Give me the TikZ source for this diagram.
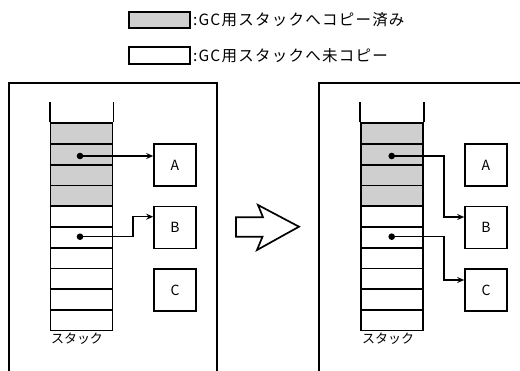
\documentclass[tikz,border=0pt]{standalone}
\usepackage{fontspec}
\setmainfont{Noto Sans CJK JP}
\usetikzlibrary{arrows.meta}
\usetikzlibrary{calc}

\tikzset{
  cell/.style={draw, line width=1.6pt, minimum width=62pt, minimum height=20.74pt, inner sep=0pt},
  copied/.style={fill=gray!38},
  obj/.style={draw, line width=1.6pt, minimum width=42pt, minimum height=42pt, inner sep=0pt, font=\fontsize{14}{16}\selectfont},
  legbox/.style={draw, line width=1.6pt, minimum width=61pt, minimum height=16.5pt, inner sep=0pt},
  legtext/.style={anchor=west, inner sep=0pt, font=\fontsize{15.5}{18}\selectfont\addfontfeatures{LetterSpace=8}},
  stacklabel/.style={font=\fontsize{13}{15}\selectfont},
  ptr/.style={line width=1.4pt, -{Stealth[length=7pt,width=6pt]}},
}

\begin{document}
\begin{tikzpicture}[x=1pt, y=-1pt]
			\useasboundingbox (0,0) rectangle (520,371);
			% legend
			\node[legbox, copied] (keyA) at (159.5,20) {};
			\node[legbox] (keyB) at (159.5,55.5) {};
			\node[legtext] (keyAtext) at ($(keyA.east)+(2,0)$) {:GC用スタックへコピー済み};
			\node[legtext] (keyBtext) at ($(keyB.east)+(2,0)$) {:GC用スタックへ未コピー};
			% panels
			\draw[line width=1.7pt] (9,371) -- (9,83) -- (217,83) -- (217,371);
			\draw[line width=1.7pt] (319,371) -- (319,83) -- (520,83);
			% stacks
			\foreach \i in {1,...,10} {
				\ifnum\i<5
					\node[cell, copied] (L\i) at (81.5,{123.3+20.74*(\i-0.5)}) {};
					\node[cell, copied] (R\i) at (392,{123.3+20.74*(\i-0.5)}) {};
				\else
					\node[cell] (L\i) at (81.5,{123.3+20.74*(\i-0.5)}) {};
					\node[cell] (R\i) at (392,{123.3+20.74*(\i-0.5)}) {};
				\fi
			}
			\draw[line width=1.6pt] (L1.north west) -- ++(0,-20);
			\draw[line width=1.6pt] (L1.north east) -- ++(0,-20);
			\draw[line width=1.6pt] (R1.north west) -- ++(0,-20);
			\draw[line width=1.6pt] (R1.north east) -- ++(0,-20);
			\node[stacklabel] (Llabel) at (77,339) {スタック};
			\node[stacklabel] (Rlabel) at (388,339) {スタック};
			% objects
			\node[obj] (LA) at (175,165) {A};
			\node[obj] (LB) at (175,227.5) {B};
			\node[obj] (LC) at (175,290) {C};
			\node[obj] (RA) at (486,165) {A};
			\node[obj] (RB) at (486,227.5) {B};
			\node[obj] (RC) at (486,290) {C};
			% pointers, before
			\coordinate (dL2) at (80,156);
			\coordinate (dL6) at (80,236.7);
			\coordinate (bendLB) at (133,216.7);
			\draw[ptr] (dL2) -- (dL2 -| LA.west);
			\draw[ptr] (dL6) -| (bendLB) -- (bendLB -| LB.west);
			\fill (dL2) circle (3.3pt);
			\fill (dL6) circle (3.3pt);
			% pointers, after
			\coordinate (dR2) at (391.7,156);
			\coordinate (dR6) at (391.7,236.7);
			\coordinate (bendRB) at (444,217);
			\coordinate (bendRC) at (444,280);
			\draw[ptr] (dR2) -| (bendRB) -- (bendRB -| RB.west);
			\draw[ptr] (dR6) -| (bendRC) -- (bendRC -| RC.west);
			\fill (dR2) circle (3.3pt);
			\fill (dR6) circle (3.3pt);
			% big arrow
			\draw[line width=1.7pt, line join=miter] (236,217.3) -- (263,217.3) -- (258,205) -- (299,226.7)
			      -- (257,250) -- (262.5,236.7) -- (236,236.7) -- cycle;
		\end{tikzpicture}
\end{document}
